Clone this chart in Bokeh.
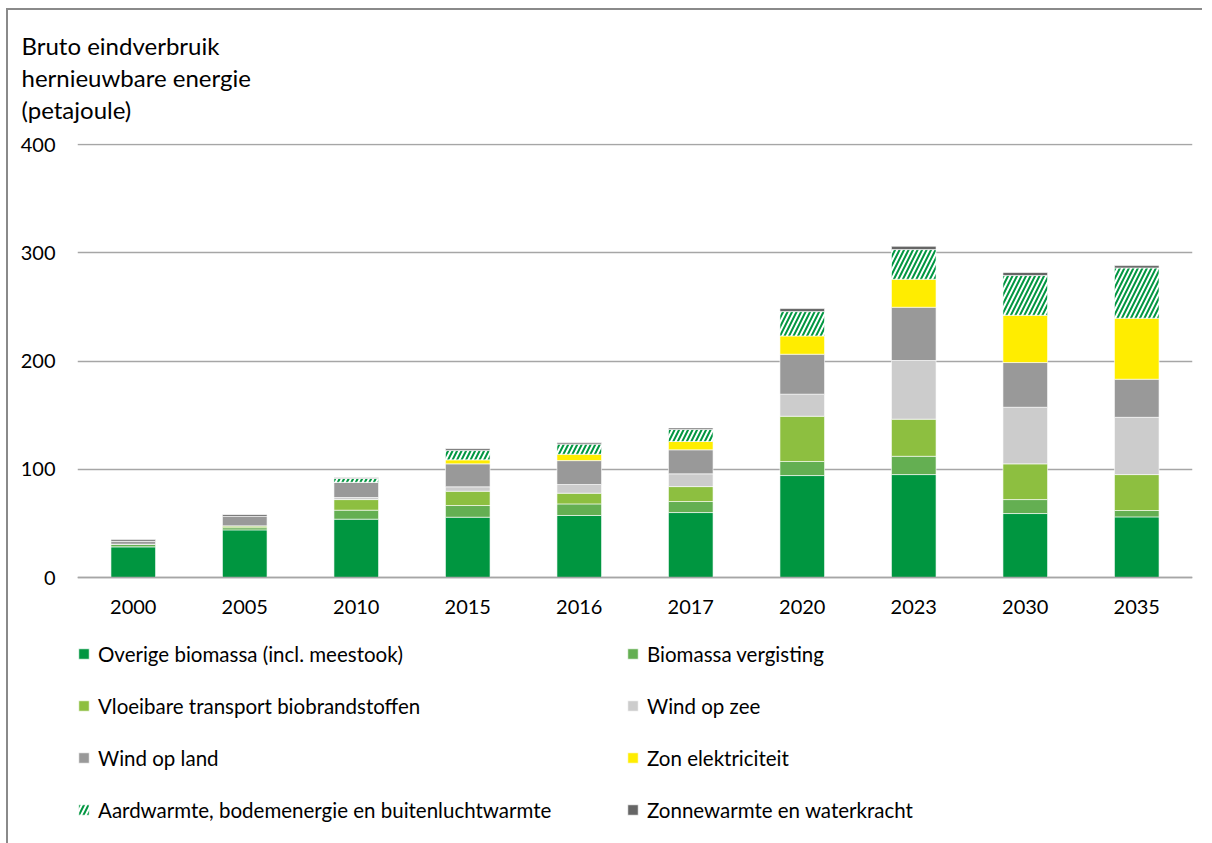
from bokeh.plotting import figure
from bokeh.models import Range1d, FactorRange, Legend, LegendItem, Title, FixedTicker, ColumnDataSource
from bokeh.embed import file_html
from bokeh.resources import INLINE

years = ["2000", "2005", "2010", "2015", "2016", "2017", "2020", "2023", "2030", "2035"]
overige = [28.3, 44.0, 53.9, 55.7, 57.3, 60.0, 94.2, 95.1, 59.1, 56.0]
vergisting = [2.5, 2.0, 8.3, 10.8, 10.7, 10.2, 13.0, 16.9, 12.9, 5.9]
vloeibaar = [0.0, 1.7, 9.8, 13.2, 9.9, 13.8, 41.8, 34.3, 33.0, 33.2]
wind_zee = [0.0, 0.0, 1.9, 4.1, 8.0, 11.8, 20.4, 54.2, 52.3, 52.9]
wind_land = [2.8, 8.7, 14.1, 21.2, 22.1, 22.2, 36.9, 49.2, 41.3, 35.2]
zon = [0.0, 0.0, 0.0, 3.7, 5.9, 7.7, 16.9, 25.9, 43.7, 56.4]
aardwarmte = [0.0, 0.0, 3.5, 8.6, 9.3, 11.1, 22.5, 27.4, 36.7, 46.4]
zonnewarmte = [1.5, 1.6, 0.6, 1.6, 1.2, 1.3, 2.8, 3.0, 2.8, 2.2]

series_names = [
    "Overige biomassa (incl. meestook)",
    "Biomassa vergisting",
    "Vloeibare transport biobrandstoffen",
    "Wind op zee",
    "Wind op land",
    "Zon elektriciteit",
    "Aardwarmte, bodemenergie en buitenluchtwarmte",
    "Zonnewarmte en waterkracht",
]
title_lines = ["Bruto eindverbruik", "hernieuwbare energie", "(petajoule)"]
y_ticks = [0, 100, 200, 300, 400]

keys = ["overige", "vergisting", "vloeibaar", "wind_zee", "wind_land", "zon", "aardwarmte", "zonnewarmte"]
colors = ["#009640", "#64af52", "#8dbf40", "#cccccc", "#999999", "#ffed00", "#ffffff", "#666666"]
hatches = [" ", " ", " ", " ", " ", " ", "/", " "]

source = ColumnDataSource(dict(
    years=years, overige=overige, vergisting=vergisting, vloeibaar=vloeibaar,
    wind_zee=wind_zee, wind_land=wind_land, zon=zon, aardwarmte=aardwarmte,
    zonnewarmte=zonnewarmte,
))

FONT = "Lato"
PX_PER_UNIT = 434 / 401
FRAME_H = 679

p = figure(
    x_range=FactorRange(*years),
    y_range=Range1d(401 - FRAME_H / PX_PER_UNIT, 401),
    frame_width=1115, frame_height=FRAME_H,
    min_border_left=69, min_border_right=10, min_border_top=133, min_border_bottom=21,
    output_backend="svg", toolbar_location=None, title=None,
)
p.styles = {
    "border-left": "2px solid #8a8a8a",
    "border-top": "2px solid #8a8a8a",
    "margin-left": "6px",
    "margin-top": "8px",
}
p.outline_line_color = None
p.background_fill_color = "white"
p.border_fill_color = "white"

renderers = p.vbar_stack(
    keys, x="years", width=0.4, source=source,
    fill_color=colors, line_color="white", line_width=0.6,
    hatch_pattern=hatches, hatch_color="#009640", hatch_scale=9, hatch_weight=2.0,
)

# axes
p.yaxis.ticker = FixedTicker(ticks=y_ticks)
p.yaxis.axis_line_color = None
p.yaxis.major_tick_line_color = None
p.yaxis.minor_tick_line_color = None
p.yaxis.major_tick_out = 0
p.yaxis.major_tick_in = 0
p.yaxis.minor_tick_out = 0
p.yaxis.major_label_standoff = 22
p.yaxis.major_label_text_font = FONT
p.yaxis.major_label_text_font_size = "20px"
p.yaxis.major_label_text_color = "#000000"

p.xaxis.fixed_location = 0
p.xaxis.axis_line_color = "#a6a6a6"
p.xaxis.axis_line_width = 1.5
p.xaxis.major_tick_line_color = None
p.xaxis.minor_tick_line_color = None
p.xaxis.major_tick_out = 0
p.xaxis.major_tick_in = 0
p.xaxis.major_label_standoff = 22
p.xaxis.major_label_text_font = FONT
p.xaxis.major_label_text_font_size = "20px"
p.xaxis.major_label_text_color = "#000000"

p.xgrid.grid_line_color = None
p.ygrid.grid_line_color = "#a6a6a6"
p.ygrid.grid_line_width = 1.5

# spacer between frame and title block
p.add_layout(Title(text=" ", text_font_size="1px", standoff=16), "above")
# title lines, stacked above the frame (later added = further up)
for line in reversed(title_lines):
    t = Title(
        text=line, align="left", offset=-56,
        text_font=FONT, text_font_size="24px", text_color="#000000",
        text_font_style="normal", standoff=1,
    )
    p.add_layout(t, "above")

order = [0, 2, 4, 6, 1, 3, 5, 7]
items = [LegendItem(label=series_names[i], renderers=[renderers[i]]) for i in order]
legend = Legend(
    items=items, location="bottom_left", orientation="vertical", nrows=4,
    label_text_font=FONT, label_text_font_size="20.5px", label_text_color="#000000",
    glyph_width=13, glyph_height=13, label_standoff=8, label_height=25,
    label_width=501, spacing=27, padding=0, margin=0,
    border_line_color=None, background_fill_alpha=0,
)
p.add_layout(legend, "center")

open("out.html", "w").write(file_html(p, INLINE))
